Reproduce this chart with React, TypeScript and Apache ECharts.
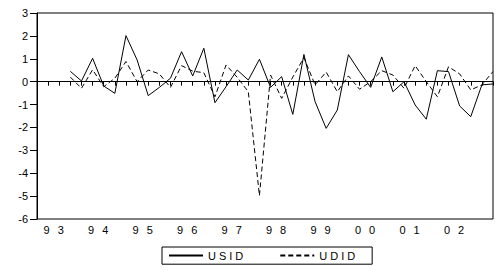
import React, { useEffect, useRef } from "react";
import * as echarts from "echarts";

// quarterly index: 1993Q1 .. 2003Q2
const quarters: string[] = [
  "1993Q1", "1993Q2", "1993Q3", "1993Q4",
  "1994Q1", "1994Q2", "1994Q3", "1994Q4",
  "1995Q1", "1995Q2", "1995Q3", "1995Q4",
  "1996Q1", "1996Q2", "1996Q3", "1996Q4",
  "1997Q1", "1997Q2", "1997Q3", "1997Q4",
  "1998Q1", "1998Q2", "1998Q3", "1998Q4",
  "1999Q1", "1999Q2", "1999Q3", "1999Q4",
  "2000Q1", "2000Q2", "2000Q3", "2000Q4",
  "2001Q1", "2001Q2", "2001Q3", "2001Q4",
  "2002Q1", "2002Q2", "2002Q3", "2002Q4",
  "2003Q1", "2003Q2",
];

const yearLabels: string[] = ["93", "94", "95", "96", "97", "98", "99", "00", "01", "02"];

const usid: (number | null)[] = [
  null, null, null, 0.45,
  0.03, 1.02, -0.19, -0.51,
  2.01, 0.95, -0.61, -0.25,
  0.15, 1.31, 0.25, 1.46,
  -0.92, -0.22, 0.51, 0.07,
  0.98, -0.25, 0.22, -1.43,
  1.19, -0.87, -2.04, -1.24,
  1.18, 0.44, -0.25, 1.08,
  -0.44, 0.0, -1.02, -1.64,
  0.48, 0.44, -1.06, -1.53,
  -0.14, -0.1,
];

const udid: (number | null)[] = [
  null, null, null, 0.2,
  -0.29, 0.52, -0.22, 0.15,
  0.88, 0.0, 0.51, 0.34,
  -0.25, 0.7, 0.46, 0.39,
  -0.66, 0.73, 0.19, -0.44,
  -4.98, 0.29, -0.73, 0.2,
  1.05, -0.14, 0.42, -0.44,
  0.25, -0.33, 0.0, 0.48,
  0.29, -0.29, 0.7, 0.0,
  -0.66, 0.65, 0.34, -0.36,
  -0.14, 0.44,
];

const FONT = "'Liberation Sans', Arial, sans-serif";

export default function App() {
  const ref = useRef<HTMLDivElement>(null);

  useEffect(() => {
    document.body.style.margin = "0";
    const el = ref.current!;
    const chart = echarts.init(el, null, { renderer: "svg" });
    const pairs = (arr: (number | null)[]) => arr.map((v, i) => [i, v]);
    const maxIdx = quarters.length - 1;

    chart.setOption({
      animation: false,
      backgroundColor: "#ffffff",
      textStyle: { fontFamily: FONT },
      grid: {
        left: 37,
        right: -2,
        top: 13,
        bottom: 52,
        show: true,
        borderColor: "#000",
        borderWidth: 1,
        backgroundColor: "transparent",
      },
      legend: {
        data: ["USID", "UDID"],
        left: 162,
        top: 247,
        orient: "horizontal",
        borderColor: "#000",
        borderWidth: 1,
        borderRadius: 0,
        padding: [3, 26, 3, 6],
        itemWidth: 34,
        itemHeight: 14,
        itemGap: 45,
        selectedMode: false,
        itemStyle: { opacity: 0, color: "transparent", borderColor: "transparent", borderWidth: 0 },
        textStyle: { fontSize: 11, color: "#000", fontFamily: FONT },
      },
      xAxis: [
        {
          type: "value",
          min: 0,
          max: maxIdx,
          interval: 1,
          axisLine: { show: true, lineStyle: { color: "#000", width: 1 } },
          axisTick: { show: true, length: 4, lineStyle: { color: "#000" } },
          axisLabel: { show: false },
          splitLine: { show: false },
        },
        {
          type: "value",
          min: 0,
          max: maxIdx,
          interval: 0.5,
          position: "bottom",
          axisLine: { show: false },
          axisTick: { show: false },
          splitLine: { show: false },
          axisLabel: {
            show: true,
            margin: 5,
            fontSize: 11,
            color: "#000",
            fontFamily: FONT,
            formatter: (v: number) => {
              const k = (v - 1.5) / 4;
              if (Number.isInteger(k) && k >= 0 && k < yearLabels.length) return yearLabels[k];
              return "";
            },
          },
        },
      ],
      yAxis: {
        type: "value",
        min: -6,
        max: 3,
        interval: 1,
        axisLine: { show: true, lineStyle: { color: "#000", width: 1 } },
        axisTick: { show: true, length: 7, lineStyle: { color: "#000" } },
        axisLabel: { margin: 9, fontSize: 11, color: "#000", fontFamily: FONT },
        splitLine: { show: false },
      },
      series: [
        {
          name: "USID",
          type: "line",
          xAxisIndex: 0,
          data: pairs(usid),
          symbol: "none",
          lineStyle: { color: "#000", width: 1, type: "solid" },
          itemStyle: { color: "#000" },
        },
        {
          name: "UDID",
          type: "line",
          xAxisIndex: 0,
          data: pairs(udid),
          symbol: "none",
          lineStyle: { color: "#000", width: 1, type: [5, 3] },
          itemStyle: { color: "#000" },
        },
      ],
    });

    const space = () => {
      el.querySelectorAll("text").forEach((t) => {
        const s = (t.textContent || "").trim();
        if (s === "USID" || s === "UDID") {
          (t as SVGTextElement).style.letterSpacing = "3px";
        } else if (yearLabels.includes(s)) {
          (t as SVGTextElement).style.letterSpacing = "8px";
          t.setAttribute("dx", "4");
        }
      });
    };
    space();
    chart.on("finished", space);

    return () => {
      chart.dispose();
    };
  }, []);

  return (
    <div
      ref={ref}
      style={{ position: "absolute", left: 0, top: 0, width: 496, height: 271, background: "#fff" }}
    />
  );
}
